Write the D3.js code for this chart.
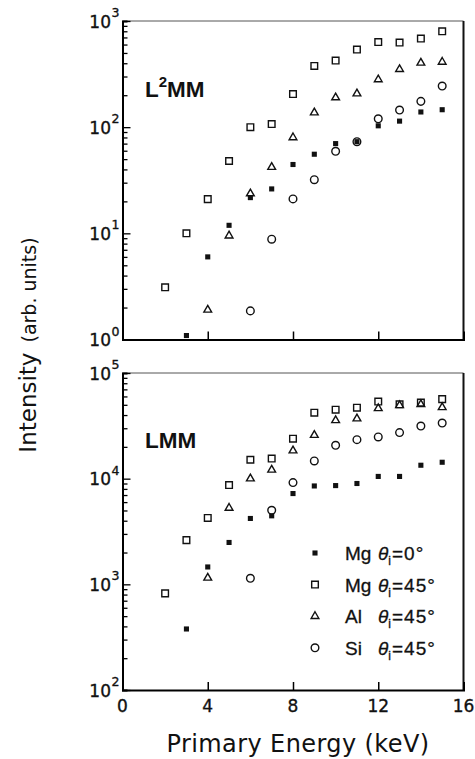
<!DOCTYPE html>
<html lang="en">
  <head>
    <meta charset="utf-8" />
    <title>L2MM and LMM intensity vs primary energy</title>
    <script src="https://cdn.jsdelivr.net/npm/d3@7"></script>
    <style>
      body { margin: 0; background: #fff; }
      svg { display: block; }
      .tick-label { font-family: "DejaVu Sans", sans-serif; font-size: 17px; fill: #111; stroke: #111; stroke-width: 0.35px; }
      .sup { font-size: 12.5px; }
      .panel-label { font-family: "Liberation Sans", Arial, sans-serif; font-weight: bold; font-size: 22.5px; fill: #111; }
      .legend text { font-family: "Liberation Sans", Arial, sans-serif; font-size: 19px; fill: #111; stroke: #111; stroke-width: 0.3px; }
      .title { font-family: "DejaVu Sans", sans-serif; fill: #111; }
    </style>
  </head>
  <body>
    <script>
      var w = 475;
      var h = 759;

      // energies (keV) and intensities
      // L2MM panel
      var l2mmMg0E = [3, 4, 5, 6, 7, 8, 9, 10, 11, 12, 13, 14, 15];
      var l2mmMg0 = [1.09, 6.0, 11.9, 21.7, 26.2, 44.5, 55.6, 70, 73, 103, 114, 139, 146];
      var l2mmMg45E = [2, 3, 4, 5, 6, 7, 8, 9, 10, 11, 12, 13, 14, 15];
      var l2mmMg45 = [3.1, 10, 21, 48, 100, 107, 205, 377, 424, 538, 634, 626, 683, 800];
      var l2mmAlE = [4, 5, 6, 7, 8, 9, 10, 11, 12, 13, 14, 15];
      var l2mmAl = [1.9, 9.5, 23.7, 42, 80, 137, 190, 207, 281, 351, 403, 411];
      var l2mmSiE = [6, 7, 8, 9, 10, 11, 12, 13, 14, 15];
      var l2mmSi = [1.86, 8.8, 21.1, 32, 59.3, 73, 120, 145, 175, 244];

      // LMM panel
      var lmmMg0E = [3, 4, 5, 6, 7, 8, 9, 10, 11, 12, 13, 14, 15];
      var lmmMg0 = [378, 1460, 2490, 4200, 4450, 7230, 8530, 8600, 9000, 10500, 10500, 13400, 14300];
      var lmmMg45E = [2, 3, 4, 5, 6, 7, 8, 9, 10, 11, 12, 13, 14, 15];
      var lmmMg45 = [821, 2620, 4250, 8700, 15100, 15500, 23900, 42100, 45000, 47000, 53700, 50500, 52500, 56600];
      var lmmAlE = [4, 5, 6, 7, 8, 9, 10, 11, 12, 13, 14, 15];
      var lmmAl = [1150, 5280, 10000, 12100, 18400, 25800, 35600, 37000, 46200, 49400, 50500, 47300];
      var lmmSiE = [6, 7, 8, 9, 10, 11, 12, 13, 14, 15];
      var lmmSi = [1140, 5020, 9180, 14700, 20700, 23400, 24800, 27300, 31500, 33600];

      var xTicks = [0, 4, 8, 12, 16];
      var legendElements = ["Mg", "Mg", "Al", "Si"];
      var legendAngles = ["0°", "45°", "45°", "45°"];
      var symbolKeys = ["filledSquare", "square", "triangle", "circle"];

      var svg = d3.select("body").append("svg").attr("width", w).attr("height", h);

      var xScale = d3.scaleLinear().domain([0, 16]).range([122.5, 463.5]);

      var yTop = d3.scaleLog().domain([1, 1000]).range([339.5, 21]);
      var yBot = d3.scaleLog().domain([100, 100000]).range([690, 373]);

      var symbols = {
        filledSquare: { type: d3.symbolSquare, size: 26, fill: "#111", stroke: "none" },
        square: { type: d3.symbolSquare, size: 44, fill: "none", stroke: "#111" },
        triangle: { type: d3.symbolTriangle, size: 26, fill: "none", stroke: "#111" },
        circle: { type: d3.symbolCircle, size: 46, fill: "none", stroke: "#111" }
      };

      function drawPanel(y, series, labelY, sup) {
        var g = svg.append("g");
        var x0 = xScale.range()[0], x1 = xScale.range()[1];
        var yb = y.range()[0], yt = y.range()[1];

        // frame
        g.append("line").attr("x1", x0).attr("x2", x1).attr("y1", yt).attr("y2", yt)
          .attr("stroke", "#555").attr("stroke-width", 1);
        g.append("line").attr("x1", x1).attr("x2", x1).attr("y1", yt).attr("y2", yb)
          .attr("stroke", "#111").attr("stroke-width", 2);

        // left axis with inward log ticks
        var lo = Math.log10(y.domain()[0]), hi = Math.log10(y.domain()[1]);
        var tv = [];
        for (var e = lo; e < hi; e++) {
          for (var m = 1; m < 10; m++) tv.push(m * Math.pow(10, e));
        }
        tv.push(Math.pow(10, hi));
        var yAxis = g.append("g").attr("transform", "translate(" + x0 + ",0)")
          .call(d3.axisRight(y).tickValues(tv).tickSize(5).tickFormat(""));
        yAxis.select(".domain").attr("stroke-width", 2);
        yAxis.selectAll(".tick line")
          .attr("stroke-width", 1.3)
          .attr("x2", function (d) {
            var l = Math.log10(d);
            return Math.abs(l - Math.round(l)) < 1e-9 ? 8 : 5;
          });

        // decade labels
        for (var k = lo; k <= hi; k++) {
          var ty = y(Math.pow(10, k));
          g.append("text").attr("class", "tick-label").attr("x", 111).attr("y", ty + 6.5)
            .attr("text-anchor", "end").text("10");
          g.append("text").attr("class", "tick-label sup").attr("x", 111.5).attr("y", ty - 4)
            .text(k);
        }

        // bottom axis, ticks inward
        var xAxis = g.append("g").attr("transform", "translate(0," + yb + ")")
          .call(d3.axisTop(xScale).tickValues([4, 8, 12]).tickSize(8).tickFormat(""));
        xAxis.select(".domain").attr("stroke-width", 2);
        xAxis.selectAll(".tick line").attr("stroke-width", 1.5);

        // panel label
        var t = g.append("text").attr("class", "panel-label").attr("x", 145).attr("y", labelY);
        t.append("tspan").text("L");
        if (sup) {
          t.append("tspan").attr("font-size", "15px").attr("dy", -10).text(sup);
          t.append("tspan").attr("dy", 10).text("MM");
        } else {
          t.append("tspan").text("MM");
        }

        // markers
        series.forEach(function (s) {
          var sym = symbols[s.key];
          var pts = s.e.map(function (d, i) { return { e: d, v: s.v[i] }; });
          g.append("g").selectAll("path").data(pts).enter().append("path")
            .attr("transform", function (d) {
              return "translate(" + xScale(d.e) + "," + y(d.v) + ")";
            })
            .attr("d", d3.symbol().type(sym.type).size(sym.size))
            .attr("fill", sym.fill)
            .attr("stroke", sym.stroke)
            .attr("stroke-width", 1.4);
        });
        return g;
      }

      drawPanel(yTop, [
        { key: "square", e: l2mmMg45E, v: l2mmMg45 },
        { key: "triangle", e: l2mmAlE, v: l2mmAl },
        { key: "circle", e: l2mmSiE, v: l2mmSi },
        { key: "filledSquare", e: l2mmMg0E, v: l2mmMg0 }
      ], 97, "2");

      drawPanel(yBot, [
        { key: "square", e: lmmMg45E, v: lmmMg45 },
        { key: "triangle", e: lmmAlE, v: lmmAl },
        { key: "circle", e: lmmSiE, v: lmmSi },
        { key: "filledSquare", e: lmmMg0E, v: lmmMg0 }
      ], 448, null);

      // x tick labels
      svg.append("g").selectAll("text").data(xTicks).enter().append("text")
        .attr("class", "tick-label")
        .attr("font-size", "18px")
        .attr("x", function (d) { return xScale(d); })
        .attr("y", 712)
        .attr("text-anchor", "middle")
        .text(function (d) { return d; });

      // legend
      var legend = svg.append("g").attr("class", "legend");
      legendElements.forEach(function (el, i) {
        var ly = 553 + i * 31.6;
        var sym = symbols[symbolKeys[i]];
        legend.append("path")
          .attr("transform", "translate(315," + ly + ")")
          .attr("d", d3.symbol().type(sym.type).size(sym.size))
          .attr("fill", sym.fill).attr("stroke", sym.stroke).attr("stroke-width", 1.4);
        legend.append("text").attr("x", 345).attr("y", ly + 7).text(el);
        var t = legend.append("text").attr("x", 378).attr("y", ly + 7);
        t.append("tspan").attr("font-style", "italic").text("θ");
        t.append("tspan").attr("font-size", "12px").attr("dy", 5).text("i");
        t.append("tspan").attr("dy", -5).attr("dx", 1).attr("letter-spacing", "1px")
          .text("=" + legendAngles[i]);
      });

      // axis titles
      svg.append("text").attr("class", "title")
        .attr("x", 298).attr("y", 752)
        .attr("text-anchor", "middle")
        .attr("font-size", "24px")
        .attr("letter-spacing", "0.4px")
        .text("Primary Energy (keV)");

      var yt = svg.append("text").attr("class", "title")
        .attr("transform", "translate(36,345) rotate(-90)")
        .attr("text-anchor", "middle")
        .attr("font-family", "Liberation Sans, Arial, sans-serif");
      yt.append("tspan").attr("font-size", "23px").text("Intensity");
      yt.append("tspan").attr("font-size", "19px").attr("dx", 10).text("(arb. units)");
    </script>
  </body>
</html>
